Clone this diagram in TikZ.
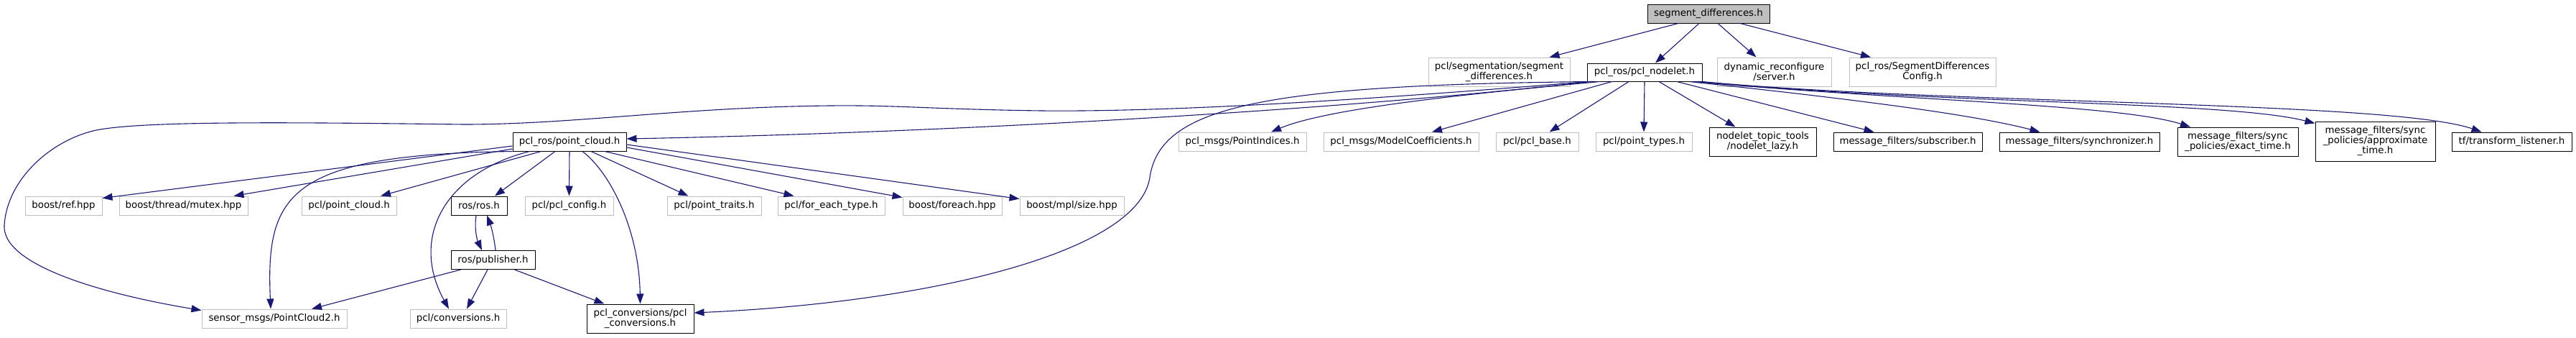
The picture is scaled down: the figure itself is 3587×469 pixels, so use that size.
\documentclass[tikz,border=0pt]{standalone}
\usepackage{fontspec}
\setmainfont{DejaVu Sans}
\usetikzlibrary{arrows.meta,calc}
\definecolor{cedge}{HTML}{191970}
\definecolor{cgrey}{HTML}{BFBFBF}
\definecolor{cblack}{HTML}{000000}
\definecolor{cwhite}{HTML}{FFFFFF}

\begin{document}
\begin{tikzpicture}[x=1pt,y=-1pt,
  ext/.style={draw=cgrey, fill=cwhite, line width=1pt, inner sep=0, align=center, minimum height=26pt, font=\fontsize{13.33}{14}\selectfont},
  doc/.style={ext, draw=cblack},
  top/.style={doc, fill=cgrey},
  arr/.style={-{Triangle[length=14pt,width=10pt]}, line width=1.1pt, draw=cedge}]

\useasboundingbox (0,0) rectangle (3587,469);

\node[top, minimum width=170pt] (root) at (2379,19) {segment\_differences.h};
\node[ext, minimum width=197pt, minimum height=40pt] (segdiff) at (2087.5,100) {pcl/segmentation/segment\\\_differences.h};
\node[doc, minimum width=160pt, minimum height=25pt] (nodelet) at (2290,100.5) {pcl\_ros/pcl\_nodelet.h};
\node[ext, minimum width=159pt, minimum height=40pt] (dynrec) at (2470.5,100) {dynamic\_reconfigure\\/server.h};
\node[ext, minimum width=204pt, minimum height=40pt] (sdcfg) at (2677,100) {pcl\_ros/SegmentDifferences\\Config.h};

\node[doc, minimum width=158pt] (pc) at (793,197) {pcl\_ros/point\_cloud.h};
\node[ext, minimum width=178pt] (pidx) at (1730,197) {pcl\_msgs/PointIndices.h};
\node[ext, minimum width=216pt] (mcoef) at (1951,197) {pcl\_msgs/ModelCoefficients.h};
\node[ext, minimum width=115pt] (pbase) at (2140.5,197) {pcl/pcl\_base.h};
\node[ext, minimum width=134pt] (ptypes) at (2289,197) {pcl/point\_types.h};
\node[doc, minimum width=149pt, minimum height=40pt] (nlazy) at (2454.5,197) {nodelet\_topic\_tools\\/nodelet\_lazy.h};
\node[doc, minimum width=207pt] (msub) at (2656.5,197) {message\_filters/subscriber.h};
\node[doc, minimum width=223pt] (msync) at (2895.5,197) {message\_filters/synchronizer.h};
\node[doc, minimum width=168pt, minimum height=40pt] (mexact) at (3116,197) {message\_filters/sync\\\_policies/exact\_time.h};
\node[doc, minimum width=167pt, minimum height=55pt] (mapprox) at (3307.5,196.5) {message\_filters/sync\\\_policies/approximate\\\_time.h};
\node[doc, minimum width=167pt] (tflist) at (3497.5,197) {tf/transform\_listener.h};

\node[ext, minimum width=107pt] (bref) at (88.5,286) {boost/ref.hpp};
\node[ext, minimum width=179pt] (bmutex) at (255.5,286) {boost/thread/mutex.hpp};
\node[ext, minimum width=132pt] (pclpc) at (486,286) {pcl/point\_cloud.h};
\node[doc, minimum width=78pt] (rosh) at (667,286) {ros/ros.h};
\node[ext, minimum width=123pt] (pconf) at (792.5,286) {pcl/pcl\_config.h};
\node[ext, minimum width=131pt] (ptraits) at (994.5,286) {pcl/point\_traits.h};
\node[ext, minimum width=149pt] (feach) at (1157.5,286) {pcl/for\_each\_type.h};
\node[ext, minimum width=138pt] (bforeach) at (1326,286) {boost/foreach.hpp};
\node[ext, minimum width=145pt] (bmpl) at (1492.5,286) {boost/mpl/size.hpp};

\node[doc, minimum width=117pt] (rospub) at (686.5,361.5) {ros/publisher.h};
\node[ext, minimum width=202pt] (smsg) at (382,443) {sensor\_msgs/PointCloud2.h};
\node[ext, minimum width=134pt] (pconv) at (638,443) {pcl/conversions.h};
\node[doc, minimum width=149pt, minimum height=40pt] (pclconv) at (891.5,443) {pcl\_conversions/pcl\\\_conversions.h};

\draw[arr] ($(root.south)+(-42,0)$) -- ($(segdiff.north)+(70,0)$);
\draw[arr] ($(root.south)+(-13,0)$) -- ($(nodelet.north)+(15,0)$);
\draw[arr] ($(root.south)+(13,0)$) -- ($(dynrec.north)+(-25,0)$);
\draw[arr] ($(root.south)+(44,0)$) -- ($(sdcfg.north)+(-72,0)$);

\draw[arr] ($(nodelet.south west)+(2,0)$) .. controls (1950,135) and (1650,156) .. (1450,154) .. controls (1300,152) and (1250,146) .. (1156,147) .. controls (950,149) and (800,173) .. (646,173) .. controls (400,170) and (200,168) .. (134,181) .. controls (70,195) and (10,250) .. (6,313) .. controls (2,370) and (150,410) .. ($(smsg.north west)+(0,2)$);
\draw[arr] ($(nodelet.south west)+(5,0)$) .. controls (1850,155) and (1300,185) .. ($(pc.east)+(0,-4)$);
\draw[arr] ($(nodelet.south west)+(8,0)$) .. controls (1750,118) and (1615,150) .. (1601,247) .. controls (1585,350) and (1300,420) .. ($(pclconv.east)+(0,-8)$);
\draw[arr] ($(nodelet.south west)+(18,0)$) .. controls (2050,130) and (1850,150) .. ($(pidx.north)+(40,0)$);
\draw[arr] ($(nodelet.south west)+(35,0)$) -- ($(mcoef.north)+(43,0)$);
\draw[arr] ($(nodelet.south)+(-22,0)$) -- ($(pbase.north)+(17,0)$);
\draw[arr] (nodelet.south) -- (ptypes.north);
\draw[arr] ($(nodelet.south)+(20,0)$) -- ($(nlazy.north)+(-38,0)$);
\draw[arr] ($(nodelet.south)+(45,0)$) -- ($(msub.north)+(-47,0)$);
\draw[arr] ($(nodelet.south east)+(-18,0)$) .. controls (2600,140) and (2750,160) .. ($(msync.north)+(-55,0)$);
\draw[arr] ($(nodelet.south east)+(-12,0)$) .. controls (2650,140) and (2950,145) .. ($(mexact.north)+(-66,0)$);
\draw[arr] ($(nodelet.south east)+(-6,0)$) .. controls (2700,145) and (3100,140) .. ($(mapprox.north west)+(0,3)$);
\draw[arr] (nodelet.south east) .. controls (2700,145) and (3330,140) .. ($(tflist.north)+(-42,0)$);

\draw[arr] ($(pc.west)+(0,6)$) -- ($(bref.north east)+(0,3)$);
\draw[arr] ($(pc.west)+(0,10)$) -- ($(bmutex.north)+(70,0)$);
\draw[arr] (pc.south west) .. controls (400,215) and (370,270) .. ($(smsg.north)+(-5,0)$);
\draw[arr] ($(pc.south west)+(40,0)$) -- ($(pclpc.north)+(44,0)$);
\draw[arr] ($(pc.south west)+(24,0)$) .. controls (620,240) and (570,330) .. ($(pconv.north)+(-13,0)$);
\draw[arr] ($(pc.south)+(-20,0)$) -- ($(rosh.north)+(22,0)$);
\draw[arr] (pc.south) -- (pconf.north);
\draw[arr] ($(pc.south)+(18,0)$) .. controls (850,240) and (890,320) .. (pclconv.north);
\draw[arr] ($(pc.south)+(30,0)$) -- ($(ptraits.north)+(-36,0)$);
\draw[arr] ($(pc.south)+(49,0)$) -- ($(feach.north)+(-52,0)$);
\draw[arr] ($(pc.east)+(0,8)$) -- ($(bforeach.north west)+(0,2)$);
\draw[arr] ($(pc.east)+(0,4)$) -- ($(bmpl.north west)+(0,4)$);

\draw[arr] ($(rosh.south)+(-4,0)$) .. controls (660,320) and (665,335) .. ($(rospub.north)+(-15.5,0)$);
\draw[arr] ($(rospub.north)+(3.5,0)$) .. controls (688,330) and (684,315) .. ($(rosh.south)+(11,0)$);
\draw[arr] ($(rospub.south)+(-45,0)$) -- ($(smsg.north)+(52,0)$);
\draw[arr] ($(rospub.south)+(-7.5,0)$) -- ($(pconv.north)+(12,0)$);
\draw[arr] ($(rospub.south)+(30,0)$) -- ($(pclconv.north)+(-50,0)$);
\end{tikzpicture}
\end{document}
